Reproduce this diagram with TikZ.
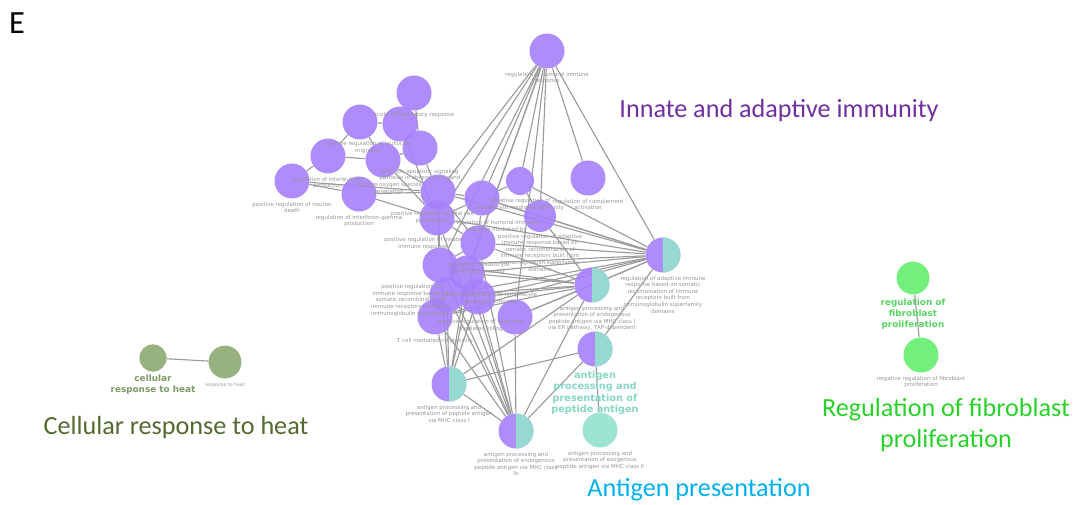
\documentclass[tikz,border=0pt]{standalone}
\usepackage{fontspec}
\setmainfont{Carlito}
\newfontfamily\dejavu{DejaVu Sans}
\usetikzlibrary{positioning, backgrounds}
\definecolor{colImm}{RGB}{166,128,252}
\definecolor{colAg}{RGB}{148,226,204}
\definecolor{colFib}{RGB}{100,238,110}
\definecolor{colHeat}{RGB}{140,170,112}
\definecolor{colEdge}{RGB}{155,155,155}
\definecolor{colTag}{RGB}{150,150,150}
\definecolor{colImmTxt}{RGB}{112,48,160}
\definecolor{colHeatTxt}{RGB}{84,106,48}
\definecolor{colAgTxt}{RGB}{0,176,240}
\definecolor{colFibTxt}{RGB}{40,210,40}

\begin{document}
\begin{tikzpicture}[
  x=0.025cm, y=-0.025cm,
  term/.style={circle, fill=colImm, fill opacity=0.9, minimum size=0.875cm, inner sep=0pt},
  mixed/.style={term, path picture={\fill[colAg] (path picture bounding box.north) rectangle (path picture bounding box.south east);}},
  agterm/.style={term, fill=colAg},
  fibterm/.style={term, fill=colFib},
  heatterm/.style={term, fill=colHeat},
  tag/.style={font=\dejavu\fontsize{3.9}{4.7}\selectfont, text=colTag, align=center, inner sep=0pt},
  bigtag/.style={font=\dejavu\bfseries\fontsize{6.3}{7.7}\selectfont, align=center, inner sep=0pt},
  link/.style={colEdge, line width=0.8pt},
  group/.style={font=\fontsize{18.6}{21.5}\selectfont, align=center, inner sep=0pt},
]
\useasboundingbox (0,0) rectangle (1076,505);

% panel letter
\node[font=\fontsize{23}{26}\selectfont, inner sep=0pt] (panel) at (17,23) {E};

% innate and adaptive immunity terms
\node[term] (hum) at (547,51) {};
\node[term] (acu) at (414,93) {};
\node[term] (leu) at (360,122) {};
\node[term] (ptn) at (400,124) {};
\node[term] (apo) at (420,148) {};
\node[term] (il1) at (328,156) {};
\node[term] (ros) at (383,160) {};
\node[term] (neu) at (292,181) {};
\node[term] (ifn) at (359,194) {};
\node[term] (gli) at (438,192) {};
\node[term] (hmr) at (482,198) {};
\node[term, minimum size=0.7cm] (neg) at (520,181) {};
\node[term] (cmp) at (588,178) {};
\node[term, minimum size=0.8cm] (pad) at (540,216) {};
\node[term] (inn) at (437,218) {};
\node[term] (lmi) at (478,243) {};
\node[term] (pir) at (440,265) {};
\node[term] (plm) at (467,273) {};
\node[term] (pkc) at (447,295) {};
\node[term] (ckl) at (478,297) {};
\node[term] (tcc) at (435,317) {};
\node[term] (tcm) at (515,317) {};

% antigen presentation terms
\node[mixed] (arb) at (663,255) {};
\node[mixed] (tap) at (592,285) {};
\node[mixed] (pep) at (595,349) {};
\node[mixed] (mhc1) at (449,384) {};
\node[mixed] (mhcb) at (516,431) {};
\node[agterm] (mhc2) at (600,430) {};

% fibroblast and heat terms
\node[fibterm, minimum size=0.82cm] (fib) at (913,278) {};
\node[fibterm] (nfib) at (921,355) {};
\node[heatterm, minimum size=0.68cm] (chs) at (153,358) {};
\node[heatterm, minimum size=0.82cm] (rth) at (225,362) {};

% edges
\begin{scope}[on background layer]
\foreach \a/\b in {hum/gli, hum/inn, hum/hmr, hum/lmi, hum/pir, hum/plm, hum/neg, hum/pad,
  hum/tcm, hum/cmp, hum/arb,
  neu/il1, neu/ifn, neu/gli, il1/leu, il1/ros, leu/ptn, leu/ros, acu/ptn, acu/apo, ptn/apo,
  ptn/inn, ros/apo, ros/gli, ros/inn, ifn/gli, ifn/inn, apo/gli, gli/hmr, gli/inn, inn/hmr,
  inn/lmi, gli/lmi, hmr/neg, hmr/pad, neg/pad, hmr/lmi, lmi/pir, lmi/plm, pir/plm, pir/pkc,
  plm/pkc, plm/ckl, pkc/tcc, pkc/ckl, inn/pir, gli/pir,
  arb/gli, arb/hmr, arb/inn, arb/lmi, arb/pir, arb/plm, arb/pkc, arb/ckl, arb/tcc, arb/tcm,
  arb/pad, arb/neg, arb/tap, arb/pep,
  tap/lmi, tap/pir, tap/plm, tap/pkc, tap/ckl, tap/tcc, tap/tcm, tap/pad, tap/mhc1, tap/mhcb,
  pep/mhc1, pep/mhcb, pep/mhc2,
  mhc1/tcc, mhc1/pkc, mhc1/pir, mhc1/plm, mhc1/ckl, mhc1/lmi, mhc1/mhcb,
  mhcb/tcc, mhcb/pkc, mhcb/pir, mhcb/plm, mhcb/ckl, mhcb/tcm, mhcb/lmi, mhcb/inn,
  fib/nfib, chs/rth}
  \draw[link] (\a) -- (\b);
\end{scope}

% term labels
\node[tag, below=2pt of hum] (humL) {regulation of humoral immune\\response};
\node[tag, below=1pt of acu] (acuL) {acute inflammatory response};
\node[tag, below=1pt of leu, xshift=6pt] (leuL) {positive regulation of leukocyte\\migration};
\node[tag, below=2pt of apo] (apoL) {extrinsic apoptotic signaling\\pathway in absence of ligand};
\node[tag, below=2pt of il1] (il1L) {regulation of interleukin-1\\production};
\node[tag, below=3pt of ros, xshift=4pt] (rosL) {reactive oxygen species\\generation};
\node[tag, below=2pt of neu] (neuL) {positive regulation of neuron\\death};
\node[tag, below=2pt of ifn] (ifnL) {regulation of interferon-gamma\\production};
\node[tag, below=1pt of gli, xshift=-4pt] (gliL) {positive regulation of glial cell\\proliferation};
\node[tag, below=3pt of hmr, xshift=10pt] (hmrL) {regulation of humoral immune\\response mediated by};
\node[tag, below=2pt of neg] (negL) {negative regulation of\\lymphocyte mediated immunity};
\node[tag, below=2pt of cmp] (cmpL) {regulation of complement\\activation};
\node[tag, below=1pt of pad] (padL) {positive regulation of adaptive\\immune response based on\\somatic recombination of\\immune receptors built from\\immunoglobulin superfamily\\domains};
\node[tag, below=1pt of inn, xshift=-10pt] (innL) {positive regulation of innate\\immune response};
\node[tag, below=1pt of lmi] (lmiL) {regulation of leukocyte\\mediated immunity};
\node[tag, below=1pt of pir, xshift=-21pt] (pirL) {positive regulation of\\immune response based on\\somatic recombination of\\immune receptors built from\\immunoglobulin superfamily};
\node[tag, below=1pt of plm, xshift=17pt] (plmL) {positive regulation of lymphocyte\\mediated immunity};
\node[tag, below=3pt of ckl, xshift=2pt] (cklL) {positive regulation of leukocyte\\mediated killing};
\node[tag, below=2pt of tcc] (tccL) {T cell mediated cytotoxicity};
\node[tag, below=2pt of arb] (arbL) {regulation of adaptive immune\\response based on somatic\\recombination of immune\\receptors built from\\immunoglobulin superfamily\\domains};
\node[tag, below=2pt of tap] (tapL) {antigen processing and\\presentation of endogenous\\peptide antigen via MHC class I\\via ER pathway, TAP-dependent};
\node[bigtag, font=\dejavu\bfseries\fontsize{6.9}{8}\selectfont, text=colAg!90!teal, below=3pt of pep] (pepL) {antigen\\processing and\\presentation of\\peptide antigen};
\node[tag, below=2pt of mhc1] (mhc1L) {antigen processing and\\presentation of peptide antigen\\via MHC class I};
\node[tag, below=2pt of mhcb] (mhcbL) {antigen processing and\\presentation of endogenous\\peptide antigen via MHC class\\Ib};
\node[tag, below=2pt of mhc2] (mhc2L) {antigen processing and\\presentation of exogenous\\peptide antigen via MHC class II};
\node[bigtag, text=colFib!90!black, below=3pt of fib] (fibL) {regulation of\\fibroblast\\proliferation};
\node[tag, below=2pt of nfib] (nfibL) {negative regulation of fibroblast\\proliferation};
\node[bigtag, text=colHeat!90!black, below=2pt of chs] (chsL) {cellular\\response to heat};
\node[tag, font=\dejavu\fontsize{3.3}{4}\selectfont, below=3pt of rth] (rthL) {response to heat};

% group titles
\node[group, text=colImmTxt] (immT) at (779,111) {Innate and adaptive immunity};
\node[group, text=colHeatTxt] (heatT) at (176,428) {Cellular response to heat};
\node[group, text=colAgTxt] (agT) at (699,490) {Antigen presentation};
\node[group, text=colFibTxt] (fibT) at (946,425) {Regulation of fibroblast\\proliferation};
\end{tikzpicture}
\end{document}
